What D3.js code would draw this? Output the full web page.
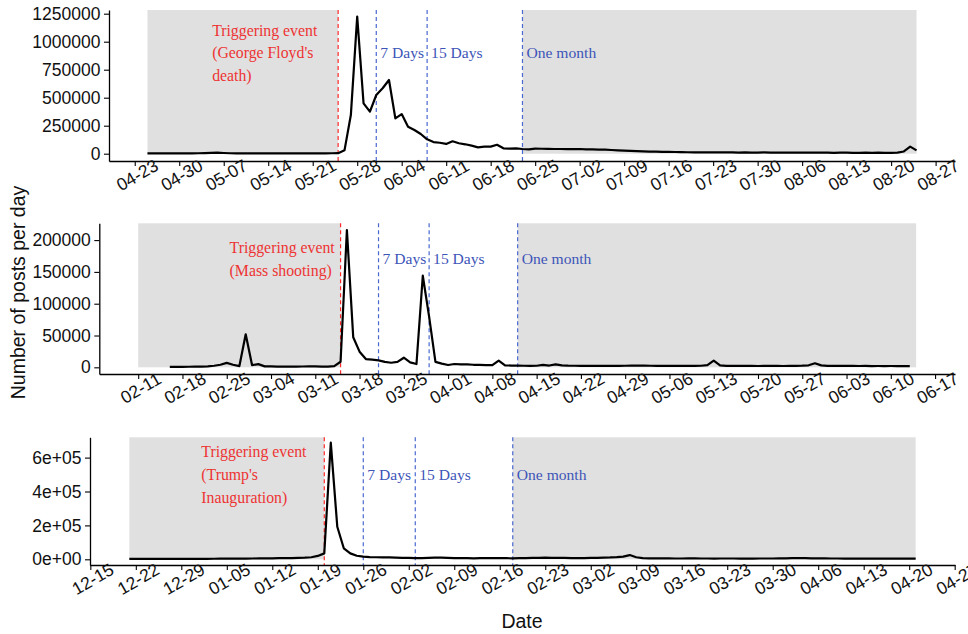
<!DOCTYPE html>
<html>
<head>
<meta charset="utf-8">
<script src="https://cdn.jsdelivr.net/npm/d3@7"></script>
<style>
  body { margin: 0; background: #fff; }
  svg { display: block; }
</style>
</head>
<body>
<div id="chart"></div>
<script>
// ---- data ----------------------------------------------------------------
// Panel 1: George Floyd's death (2020), daily counts starting 04-25
const floydStart = '2020-04-25';
const floydPosts = [
  3000, 3200, 3100, 3000, 3300, 3500, 3400, 3600, 4000, 5500,
  8000, 9000, 6000, 4000, 3500, 3600, 3400, 3300, 3500, 3200,
  3300, 3400, 3200, 3100, 3300, 3500, 3400, 3300, 3600, 4000,
  5000, 30000, 345000, 1225000, 450000, 375000, 524000, 584000, 658000, 316000,
  354000, 241000, 212000, 176000, 128000, 104000, 98000, 87000, 111000, 93000,
  84000, 72000, 57000, 63000, 63000, 80000, 48000, 45000, 48000, 42000,
  39000,
  45000, 44000, 43000, 42000, 42000, 41000, 40000, 42000, 39000, 38000, 37000,
  36000, 33000, 30000, 28000, 25000, 23000, 21000, 19000, 18000, 17000,
  16000, 15000, 14000, 13000, 12000,
  13000, 12000, 12000, 11000, 12000, 11000, 10000, 11000, 10000, 10000,
  11000, 10000, 10000, 9000, 10000, 10000, 9000, 9000, 10000, 9000,
  9000, 8000, 9000, 9000, 8000, 8000, 9000, 8000, 9000, 8000,
  8000, 9000, 20000, 63000, 30000
];
const floydEvents = ['2020-05-25', '2020-05-31', '2020-06-08', '2020-06-23'];
const floydShade = [['2020-04-25', '2020-05-25'], ['2020-06-23', '2020-08-24']];
const floydTicks = ['2020-04-23', '2020-04-30', '2020-05-07', '2020-05-14', '2020-05-21',
  '2020-05-28', '2020-06-04', '2020-06-11', '2020-06-18', '2020-06-25', '2020-07-02',
  '2020-07-09', '2020-07-16', '2020-07-23', '2020-07-30', '2020-08-06', '2020-08-13',
  '2020-08-20', '2020-08-27'];
const floydYTicks = [0, 250000, 500000, 750000, 1000000, 1250000];

// Panel 2: mass shooting (2019), daily counts starting 02-16
const shootingStart = '2019-02-16';
const shootingPosts = [
  800, 700, 800, 900, 1000, 1200, 1600, 2500, 4000,
  7000, 4000, 2000, 52000, 3500, 5000, 1500,
  1500, 1200, 1000, 1000, 1200, 1300, 1500, 1400, 1200, 1100, 2000,
  8800, 215800, 47200, 24600, 13000, 12000, 11000, 8500, 7200, 8500,
  15100, 7800, 5200, 144000, 79600, 8600, 5800, 3600, 5200, 4700,
  4500, 4000, 3800, 3500, 3300, 10500, 3000,
  2800, 2600, 2500, 2400, 2500,
  3800, 2800, 4600, 3000, 2600,
  2500, 2400, 2300, 2500, 2400, 2300, 2200, 2400, 2500, 2600,
  2800, 2600, 2500, 2400, 2300, 2200, 2300, 2400, 2300, 2200,
  2500, 3500, 10400, 3000, 2400,
  2300, 2200, 2300, 2200, 2100, 2200, 2300, 2200, 2100, 2200,
  2300, 2600, 3200, 6300, 3000, 2400,
  2300, 2200, 2300, 2200, 2100, 2200, 2000, 2100, 2000, 2100, 2000, 1900, 2000
];
const shootingEvents = ['2019-03-15', '2019-03-21', '2019-03-29', '2019-04-12'];
const shootingShade = [['2019-02-11', '2019-03-15'], ['2019-04-12', '2019-06-14']];
const shootingTicks = ['2019-02-11', '2019-02-18', '2019-02-25', '2019-03-04', '2019-03-11',
  '2019-03-18', '2019-03-25', '2019-04-01', '2019-04-08', '2019-04-15', '2019-04-22',
  '2019-04-29', '2019-05-06', '2019-05-13', '2019-05-20', '2019-05-27', '2019-06-03',
  '2019-06-10', '2019-06-17'];
const shootingYTicks = [0, 50000, 100000, 150000, 200000];

// Panel 3: Trump's inauguration (2017), daily counts starting 2016-12-21
const trumpStart = '2016-12-21';
const trumpPosts = [
  2000, 2100, 2000, 2200, 2100, 2300, 2400, 2200, 2500, 2600, 2800, 2700, 3000, 3200, 3500, 3800,
  4000, 4200, 4500, 4800, 5000, 5500, 6000, 6500, 7000, 7500,
  9000, 10000, 12000, 20000,
  35000, 688000, 192000, 65000, 35000, 21000, 15500, 13000,
  12000, 11500, 11000, 10000, 9000, 8000, 7000,
  7500, 8500, 10000, 9500, 8000, 7000,
  7000, 6500, 6000, 6500, 7000, 7500, 7000, 6500, 6000, 6500,
  7000, 8000, 9000, 9500, 9000, 8500, 8000, 7500, 7000, 7500,
  8000, 9000, 10000, 11000, 13000, 16000,
  25000, 12000, 7000,
  6000, 5500, 5000, 5000, 4800, 4800, 5000, 5000, 4800, 4700,
  4600, 4700, 4800, 4700, 4600, 4500, 4600, 4700, 4800, 4700,
  5000, 5500, 6500, 7000, 6500, 6000, 5500, 5000, 4800, 4700,
  4600, 4500, 4600, 4500, 4400, 4500, 4600, 4500, 4400, 4500, 4600, 4500
];
const trumpEvents = ['2017-01-20', '2017-01-26', '2017-02-03', '2017-02-18'];
const trumpShade = [['2016-12-21', '2017-01-20'], ['2017-02-18', '2017-04-21']];
const trumpTicks = ['2016-12-15', '2016-12-22', '2016-12-29', '2017-01-05', '2017-01-12',
  '2017-01-19', '2017-01-26', '2017-02-02', '2017-02-09', '2017-02-16', '2017-02-23',
  '2017-03-02', '2017-03-09', '2017-03-16', '2017-03-23', '2017-03-30', '2017-04-06',
  '2017-04-13', '2017-04-20', '2017-04-27'];
const trumpYTicks = [0, 200000, 400000, 600000];

const windowLabels = ['7 Days', '15 Days', 'One month'];

// ---- layout --------------------------------------------------------------
const width = 968;
const height = 634;
const xRight = 955;

const sciFormat = v => d3.format('.0e')(v).replace(/e([+-])(\d)$/, 'e$10$2');

const panels = [
  {
    start: floydStart, posts: floydPosts, events: floydEvents, shade: floydShade,
    ticks: floydTicks, yTicks: floydYTicks, yFormat: d3.format('d'),
    left: 109, top: 10, bottom: 161, yDomain: [-65200, 1283000],
    eventLines: ['Triggering event', "(George Floyd's", 'death)'],
    redDx: -126, redY: [35.7, 58.3, 80.5], blueY: 58.3
  },
  {
    start: shootingStart, posts: shootingPosts, events: shootingEvents, shade: shootingShade,
    ticks: shootingTicks, yTicks: shootingYTicks, yFormat: d3.format('d'),
    left: 99.3, top: 223.3, bottom: 374, yDomain: [-10500, 226400],
    eventLines: ['Triggering event', '(Mass shooting)'],
    redDx: -111, redY: [253.3, 275.7], blueY: 264.3
  },
  {
    start: trumpStart, posts: trumpPosts, events: trumpEvents, shade: trumpShade,
    ticks: trumpTicks, yTicks: trumpYTicks, yFormat: sciFormat,
    left: 90, top: 437.3, bottom: 565, yDomain: [-33600, 719800],
    eventLines: ['Triggering event', "(Trump's", 'Inauguration)'],
    redDx: -123, redY: [456.7, 480, 502.7], blueY: 480
  }
];

const parse = d3.utcParse('%Y-%m-%d');
const fmtTick = d3.utcFormat('%m-%d');

const svg = d3.select('#chart')
  .append('svg')
  .attr('width', width)
  .attr('height', height)
  .attr('viewBox', `0 0 ${width} ${height}`);

svg.append('rect')
  .attr('width', width)
  .attr('height', height)
  .attr('fill', '#fff');

panels.forEach(p => {
  const start = parse(p.start);
  const series = p.posts.map((v, i) => ({ date: d3.utcDay.offset(start, i), value: v }));

  // x extent follows the shaded windows, padded 5% like ggplot
  const x0 = parse(p.shade[0][0]);
  const x1 = parse(p.shade[1][1]);
  const pad = (x1 - x0) * 0.05;
  const x = d3.scaleUtc()
    .domain([new Date(+x0 - pad), new Date(+x1 + pad)])
    .range([p.left, xRight]);

  const y = d3.scaleLinear()
    .domain(p.yDomain)
    .range([p.bottom, p.top]);

  const g = svg.append('g');

  // Shaded pre-event and post-month windows
  g.append('g')
    .selectAll('rect')
    .data(p.shade)
    .join('rect')
    .attr('x', d => x(parse(d[0])))
    .attr('width', d => x(parse(d[1])) - x(parse(d[0])))
    .attr('y', p.top)
    .attr('height', y(0) - p.top)
    .attr('fill', '#e0e0e0');

  // Event + window lines
  g.append('g')
    .selectAll('line')
    .data(p.events)
    .join('line')
    .attr('x1', d => x(parse(d)))
    .attr('x2', d => x(parse(d)))
    .attr('y1', p.top)
    .attr('y2', p.bottom)
    .attr('stroke', (d, i) => i === 0 ? '#ff2a2a' : '#4a68d0')
    .attr('stroke-width', 1.2)
    .attr('stroke-dasharray', '4,3');

  // Series line
  const line = d3.line()
    .x(d => x(d.date))
    .y(d => y(d.value));

  g.append('path')
    .datum(series)
    .attr('d', line)
    .attr('fill', 'none')
    .attr('stroke', '#000')
    .attr('stroke-width', 2.2)
    .attr('stroke-linejoin', 'round');

  // Annotations
  const ex = x(parse(p.events[0]));
  g.append('g')
    .selectAll('text')
    .data(p.eventLines)
    .join('text')
    .attr('x', ex + p.redDx)
    .attr('y', (d, i) => p.redY[i])
    .attr('font-family', '"Liberation Serif", "Times New Roman", serif')
    .attr('font-size', '15.8px')
    .attr('fill', '#ee3333')
    .text(d => d);

  g.append('g')
    .selectAll('text')
    .data(windowLabels)
    .join('text')
    .attr('x', (d, i) => x(parse(p.events[i + 1])) + 4)
    .attr('y', p.blueY)
    .attr('font-family', '"Liberation Serif", "Times New Roman", serif')
    .attr('font-size', '15.6px')
    .attr('fill', '#3d55b8')
    .text(d => d);

  // Axes
  const xAxis = g.append('g')
    .attr('transform', `translate(0,${p.bottom})`)
    .call(d3.axisBottom(x)
      .tickValues(p.ticks.map(parse))
      .tickFormat(fmtTick)
      .tickSizeInner(5)
      .tickSizeOuter(0));

  xAxis.selectAll('text')
    .attr('y', 0)
    .attr('dy', '0.35em')
    .attr('text-anchor', 'middle')
    .attr('transform', 'translate(2,14) rotate(-30)');

  const yAxis = g.append('g')
    .attr('transform', `translate(${p.left},0)`)
    .call(d3.axisLeft(y)
      .tickValues(p.yTicks)
      .tickFormat(p.yFormat)
      .tickSizeInner(5)
      .tickSizeOuter(0)
      .tickPadding(3.5));

  [xAxis, yAxis].forEach(a => {
    a.select('.domain').attr('stroke', '#000').attr('stroke-width', 1.3);
    a.selectAll('.tick line').attr('stroke', '#000').attr('stroke-width', 1.1);
    a.selectAll('text')
      .attr('font-family', '"Liberation Sans", Arial, sans-serif')
      .attr('font-size', '17.5px')
      .attr('fill', '#111');
  });
});

// Axis titles
svg.append('text')
  .attr('transform', 'translate(25,292.5) rotate(-90)')
  .attr('text-anchor', 'middle')
  .attr('font-family', '"Liberation Sans", Arial, sans-serif')
  .attr('font-size', '19.5px')
  .attr('fill', '#111')
  .text('Number of posts per day');

svg.append('text')
  .attr('x', 522)
  .attr('y', 628)
  .attr('text-anchor', 'middle')
  .attr('font-family', '"Liberation Sans", Arial, sans-serif')
  .attr('font-size', '19.5px')
  .attr('fill', '#111')
  .text('Date');
</script>
</body>
</html>
